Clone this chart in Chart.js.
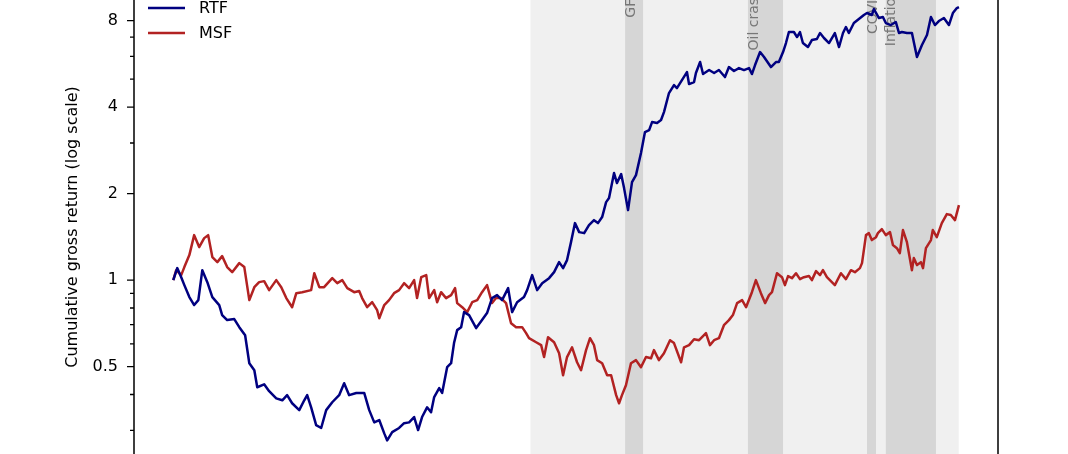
<!DOCTYPE html>
<html>
<head>
<meta charset="utf-8">
<script src="https://cdn.jsdelivr.net/npm/chart.js@4.4.1/dist/chart.umd.min.js"></script>
<style>
    html, body { margin: 0; padding: 0; background: #fff; overflow: hidden; }
    canvas { display: block; }
</style>
</head>
<body>
<canvas id="chart" width="1068" height="454"></canvas>
<script>
// cumulative gross return (decimal years)
const rtfDates = [1987.00, 1987.19, 1987.38, 1987.53, 1987.77, 1988.00, 1988.20, 1988.39, 1988.63, 1988.87,
    1989.20, 1989.34, 1989.58, 1989.92, 1990.16, 1990.44, 1990.64, 1990.88, 1991.02, 1991.35,
    1991.59, 1991.93, 1992.22, 1992.45, 1992.69, 1993.03, 1993.27, 1993.41, 1993.60, 1993.84,
    1994.08, 1994.32, 1994.61, 1994.94, 1995.18, 1995.42, 1995.76, 1996.14, 1996.38, 1996.62,
    1996.86, 1997.10, 1997.24, 1997.48, 1997.81, 1998.05, 1998.29, 1998.53, 1998.72, 1998.91,
    1999.15, 1999.34, 1999.49, 1999.73, 1999.87, 2000.11, 2000.30, 2000.44, 2000.59, 2000.78,
    2000.92, 2001.16, 2001.50, 2001.78, 2002.02, 2002.26, 2002.50, 2002.74, 2003.03, 2003.22,
    2003.46, 2003.79, 2003.94, 2004.18, 2004.42, 2004.66, 2004.99, 2005.23, 2005.47, 2005.66,
    2005.85, 2006.04, 2006.23, 2006.43, 2006.67, 2006.90, 2007.14, 2007.33, 2007.53, 2007.72,
    2007.86, 2008.10, 2008.24, 2008.44, 2008.58, 2008.77, 2008.96, 2009.15, 2009.39, 2009.58,
    2009.78, 2009.92, 2010.16, 2010.35, 2010.49, 2010.73, 2010.97, 2011.11, 2011.35, 2011.59,
    2011.69, 2011.93, 2012.02, 2012.22, 2012.36, 2012.65, 2012.89, 2013.12, 2013.41, 2013.60,
    2013.84, 2014.08, 2014.32, 2014.56, 2014.70, 2014.85, 2015.09, 2015.28, 2015.61, 2015.85,
    2015.99, 2016.19, 2016.33, 2016.47, 2016.71, 2016.86, 2017.00, 2017.14, 2017.38, 2017.57,
    2017.81, 2017.96, 2018.15, 2018.39, 2018.67, 2018.87, 2019.06, 2019.20, 2019.34, 2019.58,
    2019.82, 2020.06, 2020.21, 2020.44, 2020.54, 2020.78, 2020.97, 2021.11, 2021.35, 2021.59,
    2021.74, 2021.88, 2022.12, 2022.36, 2022.60, 2022.84, 2023.08, 2023.27, 2023.46, 2023.65,
    2023.89, 2024.13, 2024.32, 2024.51, 2024.61];
const rtfValues = [1.000, 1.101, 1.024, 0.961, 0.873, 0.819, 0.852, 1.083, 0.984, 0.873,
    0.819, 0.756, 0.726, 0.732, 0.686, 0.643, 0.514, 0.486, 0.424, 0.434,
    0.411, 0.388, 0.382, 0.398, 0.373, 0.353, 0.382, 0.398, 0.361, 0.313,
    0.306, 0.353, 0.376, 0.398, 0.438, 0.398, 0.405, 0.405, 0.353, 0.320,
    0.326, 0.293, 0.277, 0.296, 0.306, 0.318, 0.320, 0.334, 0.301, 0.334,
    0.361, 0.347, 0.392, 0.421, 0.405, 0.498, 0.514, 0.604, 0.670, 0.686,
    0.774, 0.756, 0.681, 0.726, 0.768, 0.866, 0.887, 0.852, 0.938, 0.774,
    0.838, 0.873, 0.923, 1.041, 0.923, 0.976, 1.016, 1.066, 1.155, 1.101,
    1.174, 1.356, 1.579, 1.469, 1.457, 1.554, 1.617, 1.579, 1.657, 1.868,
    1.929, 2.357, 2.176, 2.338, 2.090, 1.752, 2.193, 2.319, 2.767, 3.274,
    3.327, 3.547, 3.519, 3.605, 3.843, 4.475, 4.771, 4.658, 4.966, 5.295,
    4.810, 4.887, 5.253, 5.737, 5.211, 5.381, 5.253, 5.381, 5.087, 5.511,
    5.340, 5.467, 5.381, 5.467, 5.211, 5.600, 6.215, 5.971, 5.511, 5.737,
    5.737, 6.215, 6.681, 7.296, 7.296, 7.009, 7.296, 6.681, 6.470, 6.844,
    6.899, 7.238, 6.955, 6.681, 7.238, 6.470, 7.238, 7.594, 7.238, 7.841,
    8.097, 8.361, 8.496, 8.361, 8.772, 8.162, 8.227, 7.841, 7.716, 7.904,
    7.238, 7.296, 7.238, 7.238, 5.971, 6.575, 7.123, 8.227, 7.716, 7.968,
    8.162, 7.716, 8.496, 8.843, 8.914];

const msfDates = [1987.00, 1987.14, 1987.38, 1987.53, 1987.77, 1988.00, 1988.24, 1988.48, 1988.67, 1988.87,
    1989.11, 1989.34, 1989.58, 1989.82, 1990.16, 1990.40, 1990.64, 1990.88, 1991.11, 1991.35,
    1991.59, 1991.93, 1992.17, 1992.41, 1992.69, 1992.89, 1993.17, 1993.60, 1993.75, 1993.99,
    1994.22, 1994.61, 1994.85, 1995.09, 1995.33, 1995.66, 1995.90, 1996.04, 1996.28, 1996.52,
    1996.76, 1996.86, 1997.10, 1997.33, 1997.57, 1997.81, 1998.05, 1998.29, 1998.53, 1998.67,
    1998.87, 1999.11, 1999.25, 1999.49, 1999.63, 1999.82, 2000.06, 2000.30, 2000.49, 2000.59,
    2000.83, 2001.07, 2001.31, 2001.55, 2001.78, 2002.02, 2002.26, 2002.45, 2002.69, 2002.93,
    2003.17, 2003.41, 2003.70, 2003.89, 2004.03, 2004.37, 2004.61, 2004.75, 2004.94, 2005.23,
    2005.47, 2005.66, 2005.85, 2006.09, 2006.33, 2006.52, 2006.76, 2006.95, 2007.14, 2007.29,
    2007.53, 2007.77, 2007.96, 2008.20, 2008.34, 2008.48, 2008.67, 2008.91, 2009.15, 2009.39,
    2009.63, 2009.87, 2010.01, 2010.25, 2010.49, 2010.78, 2010.97, 2011.31, 2011.45, 2011.69,
    2011.93, 2012.17, 2012.50, 2012.69, 2012.89, 2013.12, 2013.36, 2013.60, 2013.79, 2013.99,
    2014.23, 2014.42, 2014.70, 2014.89, 2015.13, 2015.33, 2015.52, 2015.66, 2015.90, 2016.14,
    2016.28, 2016.43, 2016.62, 2016.81, 2017.00, 2017.19, 2017.43, 2017.57, 2017.77, 2017.96,
    2018.10, 2018.29, 2018.67, 2018.96, 2019.20, 2019.44, 2019.63, 2019.87, 2019.97, 2020.16,
    2020.30, 2020.44, 2020.64, 2020.73, 2020.92, 2021.11, 2021.31, 2021.45, 2021.64, 2021.78,
    2021.93, 2022.12, 2022.36, 2022.45, 2022.60, 2022.79, 2022.89, 2023.03, 2023.27, 2023.36,
    2023.55, 2023.79, 2024.03, 2024.22, 2024.42, 2024.61];
const msfValues = [1.000, 1.083, 1.041, 1.110, 1.222, 1.434, 1.303, 1.400, 1.434, 1.203,
    1.155, 1.212, 1.110, 1.066, 1.146, 1.110, 0.852, 0.945, 0.984, 0.992,
    0.923, 1.000, 0.945, 0.866, 0.805, 0.901, 0.908, 0.923, 1.057, 0.945,
    0.945, 1.016, 0.976, 1.000, 0.938, 0.908, 0.916, 0.866, 0.805, 0.838,
    0.786, 0.737, 0.819, 0.852, 0.901, 0.923, 0.976, 0.938, 1.000, 0.866,
    1.024, 1.041, 0.866, 0.923, 0.838, 0.908, 0.866, 0.887, 0.938, 0.832,
    0.805, 0.774, 0.838, 0.852, 0.908, 0.961, 0.832, 0.866, 0.866, 0.832,
    0.708, 0.686, 0.686, 0.654, 0.628, 0.608, 0.594, 0.540, 0.633, 0.608,
    0.557, 0.467, 0.540, 0.584, 0.518, 0.486, 0.571, 0.628, 0.594, 0.527,
    0.514, 0.467, 0.467, 0.398, 0.373, 0.398, 0.431, 0.514, 0.527, 0.498,
    0.540, 0.535, 0.571, 0.527, 0.557, 0.618, 0.604, 0.518, 0.584, 0.594,
    0.623, 0.618, 0.654, 0.594, 0.618, 0.628, 0.697, 0.726, 0.756, 0.832,
    0.852, 0.805, 0.908, 1.000, 0.901, 0.832, 0.887, 0.908, 1.057, 1.024,
    0.961, 1.033, 1.016, 1.057, 1.008, 1.024, 1.033, 1.000, 1.075, 1.041,
    1.083, 1.024, 0.961, 1.057, 1.008, 1.083, 1.066, 1.101, 1.146, 1.434,
    1.457, 1.378, 1.411, 1.457, 1.505, 1.434, 1.469, 1.324, 1.292, 1.241,
    1.493, 1.356, 1.083, 1.193, 1.128, 1.155, 1.101, 1.292, 1.378, 1.493,
    1.411, 1.579, 1.697, 1.684, 1.617, 1.824];

// out-of-sample period and crisis bands
const testStart = 2004.1;
const testEnd = 2024.6;
const bandNames = ['GFC', 'Oil crash', 'COVID', 'Inflation'];
const bandStarts = [2008.63, 2014.51, 2020.21, 2021.11];
const bandEnds = [2009.49, 2016.19, 2020.64, 2023.51];

const yMajorTicks = [0.5, 1, 2, 4, 8];
const yMinorTicks = [0.3, 0.4, 0.6, 0.7, 0.8, 0.9, 3, 5, 6, 7];

const FONT = 'DejaVu Sans';

function toPoints (dates, values) {
    return dates.map((d, i) => ({ x: d, y: values[i] }));
}

const decorPlugin = {
    id: 'decor',
    beforeDatasetsDraw (chart) {
        const { ctx, chartArea, scales } = chart;
        const x = scales.x;
        ctx.save();
        ctx.fillStyle = '#f0f0f0';
        const t0 = x.getPixelForValue(testStart);
        const t1 = x.getPixelForValue(testEnd);
        ctx.fillRect(t0, chartArea.top, t1 - t0, chartArea.bottom - chartArea.top);

        ctx.fillStyle = '#d6d6d6';
        for (let i = 0; i < bandNames.length; i++) {
            const b0 = x.getPixelForValue(bandStarts[i]);
            const b1 = x.getPixelForValue(bandEnds[i]);
            ctx.fillRect(b0, chartArea.top, b1 - b0, chartArea.bottom - chartArea.top);
        }

        ctx.fillStyle = '#777';
        ctx.font = '14px "' + FONT + '"';
        ctx.textAlign = 'right';
        ctx.textBaseline = 'middle';
        for (let i = 0; i < bandNames.length; i++) {
            const b0 = x.getPixelForValue(bandStarts[i]);
            ctx.save();
            ctx.translate(b0 + 6, -11);
            ctx.rotate(-Math.PI / 2);
            ctx.fillText(bandNames[i], 0, 0);
            ctx.restore();
        }
        ctx.restore();
    },
    afterDraw (chart) {
        const { ctx, chartArea, scales } = chart;
        const y = scales.y;
        ctx.save();
        ctx.strokeStyle = '#000';
        ctx.lineWidth = 1.5;
        ctx.beginPath();
        ctx.moveTo(chartArea.left, chartArea.top);
        ctx.lineTo(chartArea.left, chartArea.bottom);
        ctx.moveTo(chartArea.right, chartArea.top);
        ctx.lineTo(chartArea.right, chartArea.bottom);
        ctx.stroke();

        ctx.lineWidth = 1.3;
        ctx.beginPath();
        yMajorTicks.forEach(v => {
            const p = y.getPixelForValue(v);
            ctx.moveTo(chartArea.left - 7, p);
            ctx.lineTo(chartArea.left, p);
        });
        yMinorTicks.forEach(v => {
            const p = y.getPixelForValue(v);
            ctx.moveTo(chartArea.left - 4, p);
            ctx.lineTo(chartArea.left, p);
        });
        ctx.stroke();

        // legend
        const items = [['RTF', '#000080', 8], ['MSF', '#b22222', 33]];
        ctx.font = '16px "' + FONT + '"';
        ctx.textAlign = 'left';
        ctx.textBaseline = 'middle';
        items.forEach(([label, color, ly]) => {
            ctx.strokeStyle = color;
            ctx.lineWidth = 2.5;
            ctx.beginPath();
            ctx.moveTo(148, ly);
            ctx.lineTo(185, ly);
            ctx.stroke();
            ctx.fillStyle = '#000';
            ctx.fillText(label, 199, ly + 1);
        });
        ctx.restore();
    }
};

new Chart(document.getElementById('chart').getContext('2d'), {
    type: 'line',
    data: {
        datasets: [{
            label: 'RTF',
            data: toPoints(rtfDates, rtfValues),
            borderColor: '#000080',
            borderWidth: 2.5
        }, {
            label: 'MSF',
            data: toPoints(msfDates, msfValues),
            borderColor: '#b22222',
            borderWidth: 2.5
        }]
    },
    options: {
        responsive: false,
        animation: false,
        layout: {
            padding: { left: 0, right: 70, top: 0, bottom: 0 }
        },
        elements: {
            point: { radius: 0 },
            line: { tension: 0, borderJoinStyle: 'round', fill: false }
        },
        plugins: {
            legend: { display: false },
            tooltip: { enabled: false }
        },
        scales: {
            x: {
                type: 'linear',
                min: 1985.12,
                max: 2026.48,
                display: false
            },
            y: {
                type: 'logarithmic',
                min: 0.2484,
                max: 9.43,
                afterFit: scale => {
                    scale.width = 134;
                    scale.paddingTop = 0;
                    scale.paddingBottom = 0;
                },
                afterBuildTicks: scale => {
                    scale.ticks = yMajorTicks.map(v => ({ value: v }));
                },
                ticks: {
                    padding: 16,
                    color: '#000',
                    font: { family: FONT, size: 16 },
                    callback: v => String(v)
                },
                grid: { display: false, drawTicks: false },
                border: { display: false },
                title: {
                    display: true,
                    text: 'Cumulative gross return (log scale)',
                    color: '#000',
                    font: { family: FONT, size: 16 },
                    padding: { top: 63, bottom: 0 }
                }
            }
        }
    },
    plugins: [decorPlugin]
});
</script>
</body>
</html>
